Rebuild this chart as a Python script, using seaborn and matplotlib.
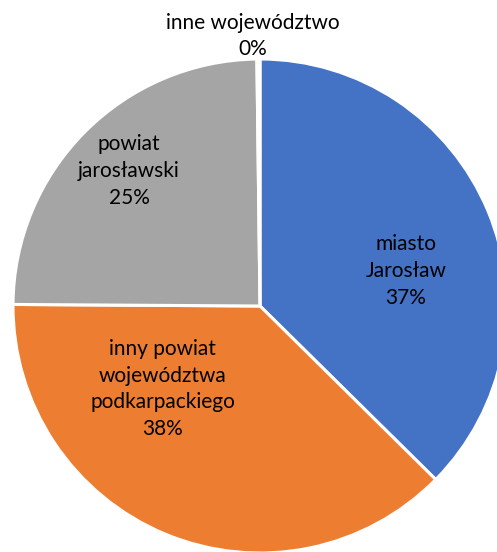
import matplotlib
matplotlib.use("Agg")
import matplotlib.pyplot as plt
import seaborn as sns

categories = ["miasto\nJarosław", "inny powiat\nwojewództwa\npodkarpackiego", "powiat\njarosławski", "inne województwo"]
values = [37.4, 37.7, 24.7, 0.2]
pct_labels = ["37%", "38%", "25%", "0%"]
colors = ["#4472C4", "#ED7D31", "#A5A5A5", "#FFC000"]

sns.set_theme(style="white")
plt.rcParams['font.family'] = ['Lato', 'DejaVu Sans']

fig = plt.figure(figsize=(4.97, 5.52), dpi=100)
ax = fig.add_axes([0, 0, 1, 1])
palette = sns.color_palette(colors)
wedges, _ = ax.pie(values, colors=palette, startangle=90, counterclock=False,
                   wedgeprops=dict(edgecolor="white", linewidth=2.2))

# label positions (in radius units)
label_pos = [(0.591, 0.142), (-0.393, -0.336), (-0.530, 0.547), (-0.028, 1.093)]
for cat, pct, (x, y) in zip(categories, pct_labels, label_pos):
    ax.text(x, y, f"{cat}\n{pct}", ha="center", va="center", fontsize=15,
            color="#000000", linespacing=1.42)

ax.set_xlim(-260 / 247, (497 - 260) / 247)
ax.set_ylim(-(552 - 306) / 247, 306 / 247)
ax.set_aspect('equal', adjustable='box')
ax.axis('off')
fig.savefig("out.png", dpi=100)
